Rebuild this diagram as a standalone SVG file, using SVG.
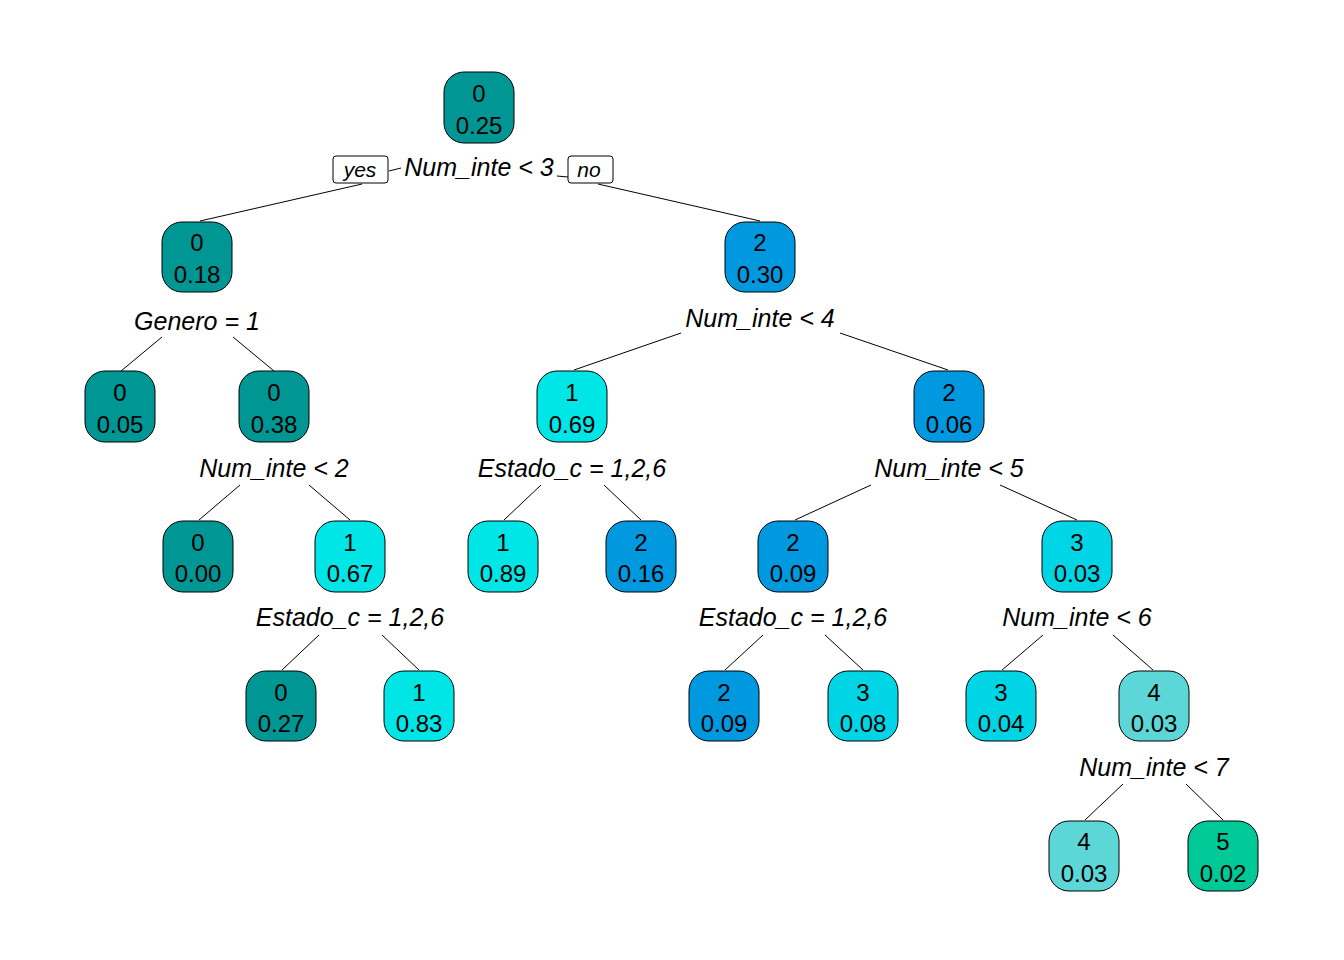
<svg xmlns="http://www.w3.org/2000/svg" width="1344" height="960" viewBox="0 0 1344 960">
<style>
.n{stroke:#000;stroke-width:1}
.t{font-family:"Liberation Sans",Arial,sans-serif;font-size:24px;text-anchor:middle;fill:#000}
.s{font-family:"Liberation Sans",Arial,sans-serif;font-size:25px;font-style:italic;text-anchor:middle;fill:#000}
.yn{font-family:"Liberation Sans",Arial,sans-serif;font-size:21px;font-style:italic;text-anchor:middle;fill:#000}
.c0{fill:#009694}.c1{fill:#00E5E5}.c2{fill:#0099E0}.c3{fill:#00D5E5}.c4{fill:#5CD6D6}.c5{fill:#00C896}
#edges line{stroke:#000;stroke-width:1}
</style>
<rect width="1344" height="960" fill="#fff"/>
<g id="edges">
<line x1="362" y1="184" x2="200" y2="221"/>
<line x1="389" y1="171" x2="401" y2="168"/>
<line x1="557" y1="176" x2="568" y2="177"/>
<line x1="598" y1="184" x2="760" y2="221"/>
<line x1="162" y1="337" x2="121" y2="371"/>
<line x1="233" y1="337" x2="274" y2="371"/>
<line x1="681" y1="333" x2="574" y2="370"/>
<line x1="840" y1="333" x2="948" y2="370"/>
<line x1="240" y1="485" x2="199" y2="520"/>
<line x1="309" y1="485" x2="350" y2="520"/>
<line x1="541" y1="485" x2="504" y2="520"/>
<line x1="604" y1="485" x2="641" y2="520"/>
<line x1="871" y1="485" x2="795" y2="520"/>
<line x1="1000" y1="485" x2="1077" y2="520"/>
<line x1="319" y1="635" x2="282" y2="670"/>
<line x1="382" y1="635" x2="419" y2="670"/>
<line x1="763" y1="635" x2="725" y2="670"/>
<line x1="825" y1="635" x2="863" y2="670"/>
<line x1="1043" y1="635" x2="1002" y2="670"/>
<line x1="1113" y1="635" x2="1153" y2="670"/>
<line x1="1123" y1="784" x2="1085" y2="820"/>
<line x1="1186" y1="784" x2="1223" y2="820"/>
</g>
<g id="yes"><rect x="333" y="156" width="55" height="27" rx="3" fill="#fff" stroke="#000"/><text class="yn" x="360" y="177">yes</text></g>
<g id="no"><rect x="568" y="156" width="45" height="27" rx="3" fill="#fff" stroke="#000"/><text class="yn" x="589" y="177">no</text></g>
<g id="labels">
<text class="s" x="479" y="176">Num_inte &lt; 3</text>
<text class="s" x="197" y="330">Genero = 1</text>
<text class="s" x="760" y="327">Num_inte &lt; 4</text>
<text class="s" x="274" y="477">Num_inte &lt; 2</text>
<text class="s" x="572" y="477">Estado_c = 1,2,6</text>
<text class="s" x="949" y="477">Num_inte &lt; 5</text>
<text class="s" x="350" y="626">Estado_c = 1,2,6</text>
<text class="s" x="793" y="626">Estado_c = 1,2,6</text>
<text class="s" x="1077" y="626">Num_inte &lt; 6</text>
<text class="s" x="1154" y="776">Num_inte &lt; 7</text>
</g>
<g id="n1"><rect class="n c0" x="444" y="72" width="70" height="71" rx="20"/><text class="t" x="479" y="102">0</text><text class="t" x="479" y="134">0.25</text></g>
<g id="n2"><rect class="n c0" x="162" y="222" width="70" height="70" rx="20"/><text class="t" x="197" y="251">0</text><text class="t" x="197" y="283">0.18</text></g>
<g id="n3"><rect class="n c2" x="725" y="222" width="70" height="70" rx="20"/><text class="t" x="760" y="251">2</text><text class="t" x="760" y="283">0.30</text></g>
<g id="n4"><rect class="n c0" x="85" y="371" width="70" height="71" rx="20"/><text class="t" x="120" y="401">0</text><text class="t" x="120" y="433">0.05</text></g>
<g id="n5"><rect class="n c0" x="239" y="371" width="70" height="71" rx="20"/><text class="t" x="274" y="401">0</text><text class="t" x="274" y="433">0.38</text></g>
<g id="n6"><rect class="n c1" x="537" y="371" width="70" height="71" rx="20"/><text class="t" x="572" y="401">1</text><text class="t" x="572" y="433">0.69</text></g>
<g id="n7"><rect class="n c2" x="914" y="371" width="70" height="71" rx="20"/><text class="t" x="949" y="401">2</text><text class="t" x="949" y="433">0.06</text></g>
<g id="n10"><rect class="n c0" x="163" y="521" width="70" height="71" rx="20"/><text class="t" x="198" y="551">0</text><text class="t" x="198" y="582">0.00</text></g>
<g id="n11"><rect class="n c1" x="315" y="521" width="70" height="71" rx="20"/><text class="t" x="350" y="551">1</text><text class="t" x="350" y="582">0.67</text></g>
<g id="n12"><rect class="n c1" x="468" y="521" width="70" height="71" rx="20"/><text class="t" x="503" y="551">1</text><text class="t" x="503" y="582">0.89</text></g>
<g id="n13"><rect class="n c2" x="606" y="521" width="70" height="71" rx="20"/><text class="t" x="641" y="551">2</text><text class="t" x="641" y="582">0.16</text></g>
<g id="n14"><rect class="n c2" x="758" y="521" width="70" height="71" rx="20"/><text class="t" x="793" y="551">2</text><text class="t" x="793" y="582">0.09</text></g>
<g id="n15"><rect class="n c3" x="1042" y="521" width="70" height="71" rx="20"/><text class="t" x="1077" y="551">3</text><text class="t" x="1077" y="582">0.03</text></g>
<g id="n22"><rect class="n c0" x="246" y="671" width="70" height="70" rx="20"/><text class="t" x="281" y="701">0</text><text class="t" x="281" y="732">0.27</text></g>
<g id="n23"><rect class="n c1" x="384" y="671" width="70" height="70" rx="20"/><text class="t" x="419" y="701">1</text><text class="t" x="419" y="732">0.83</text></g>
<g id="n28"><rect class="n c2" x="689" y="671" width="70" height="70" rx="20"/><text class="t" x="724" y="701">2</text><text class="t" x="724" y="732">0.09</text></g>
<g id="n29"><rect class="n c3" x="828" y="671" width="70" height="70" rx="20"/><text class="t" x="863" y="701">3</text><text class="t" x="863" y="732">0.08</text></g>
<g id="n30"><rect class="n c3" x="966" y="671" width="70" height="70" rx="20"/><text class="t" x="1001" y="701">3</text><text class="t" x="1001" y="732">0.04</text></g>
<g id="n31"><rect class="n c4" x="1119" y="671" width="70" height="70" rx="20"/><text class="t" x="1154" y="701">4</text><text class="t" x="1154" y="732">0.03</text></g>
<g id="n62"><rect class="n c4" x="1049" y="821" width="70" height="70" rx="20"/><text class="t" x="1084" y="850">4</text><text class="t" x="1084" y="882">0.03</text></g>
<g id="n63"><rect class="n c5" x="1188" y="821" width="70" height="70" rx="20"/><text class="t" x="1223" y="850">5</text><text class="t" x="1223" y="882">0.02</text></g>
</svg>
